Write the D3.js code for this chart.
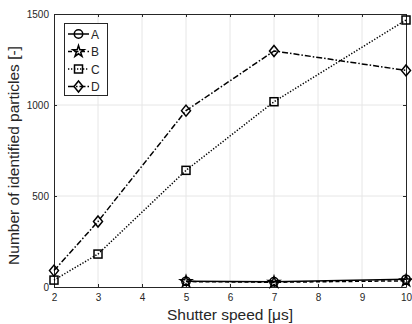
<!DOCTYPE html>
<html lang="en">
<head>
<meta charset="UTF-8">
<title>Identified particles vs shutter speed</title>
<script src="https://d3js.org/d3.v7.min.js"></script>
<style>
  body { margin: 0; background: #fff; }
  svg text { font-family: "Liberation Sans", Arial, sans-serif; fill: #262626; }
</style>
</head>
<body>
<svg id="chart" width="412" height="324"></svg>
<script>
  // data
  const xA = [5, 7, 10];
  const yA = [31, 29, 42];
  const xB = [5, 7, 10];
  const yB = [30, 26, 34];
  const xC = [2, 3, 5, 7, 10];
  const yC = [38, 181, 641, 1018, 1467];
  const xD = [2, 3, 5, 7, 10];
  const yD = [90, 360, 969, 1297, 1190];
  const xTicks = [2, 3, 4, 5, 6, 7, 8, 9, 10];
  const yTicks = [0, 500, 1000, 1500];

  const series = [
    { name: "A", xs: xA, ys: yA, dash: null, marker: "circle" },
    { name: "B", xs: xB, ys: yB, dash: "4,2.5", marker: "star" },
    { name: "C", xs: xC, ys: yC, dash: "1.3,1.7", marker: "square" },
    { name: "D", xs: xD, ys: yD, dash: "6,2,1.5,2", marker: "diamond" }
  ];

  const mLeft = 54, mRight = 406, mTop = 14, mBottom = 287;
  const svg = d3.select("#chart");

  const x = d3.scaleLinear().domain([2, 10]).range([mLeft, mRight]);
  const y = d3.scaleLinear().domain([0, 1500]).range([mBottom, mTop]);

  // grid
  svg.append("g").selectAll("line").data(xTicks.slice(1, -1)).join("line")
    .attr("x1", d => x(d)).attr("x2", d => x(d))
    .attr("y1", mTop).attr("y2", mBottom)
    .attr("stroke", "#e6e6e6").attr("stroke-width", 1);
  svg.append("g").selectAll("line").data(yTicks.slice(1, -1)).join("line")
    .attr("x1", mLeft).attr("x2", mRight)
    .attr("y1", d => y(d)).attr("y2", d => y(d))
    .attr("stroke", "#e6e6e6").attr("stroke-width", 1);

  // axes (ticks inward)
  const axisStyle = g => {
    g.select(".domain").attr("stroke", "#262626");
    g.selectAll(".tick line").attr("stroke", "#262626");
    g.selectAll("text").style("font-size", "10px").attr("fill", "#262626");
  };
  svg.append("g").attr("transform", `translate(0,${mBottom})`)
    .call(d3.axisBottom(x).tickValues(xTicks).tickSize(-3).tickSizeOuter(0).tickPadding(7).tickFormat(d3.format("d")))
    .call(axisStyle);
  svg.append("g").attr("transform", `translate(${mLeft},0)`)
    .call(d3.axisLeft(y).tickValues(yTicks).tickSize(-3).tickSizeOuter(0).tickPadding(5).tickFormat(d3.format("d")))
    .call(axisStyle);
  svg.append("g").attr("transform", `translate(0,${mTop})`)
    .call(d3.axisTop(x).tickValues(xTicks).tickSize(-3).tickSizeOuter(0).tickFormat(""))
    .call(axisStyle);
  svg.append("g").attr("transform", `translate(${mRight},0)`)
    .call(d3.axisRight(y).tickValues(yTicks).tickSize(-3).tickSizeOuter(0).tickFormat(""))
    .call(axisStyle);

  // markers
  function drawMarker(g, type, cx, cy) {
    if (type === "circle") {
      g.append("circle").attr("cx", cx).attr("cy", cy).attr("r", 4.2)
        .attr("fill", "none").attr("stroke", "#000").attr("stroke-width", 1.5);
    } else if (type === "square") {
      g.append("rect").attr("x", cx - 4).attr("y", cy - 4).attr("width", 8).attr("height", 8)
        .attr("fill", "none").attr("stroke", "#000").attr("stroke-width", 1.5);
    } else if (type === "diamond") {
      g.append("path").attr("d", `M${cx},${cy - 5.5}L${cx + 4.5},${cy}L${cx},${cy + 5.5}L${cx - 4.5},${cy}Z`)
        .attr("fill", "none").attr("stroke", "#000").attr("stroke-width", 1.5);
    } else if (type === "star") {
      const sym = d3.symbol().type(d3.symbolStar).size(40);
      g.append("path").attr("d", sym()).attr("transform", `translate(${cx},${cy})`)
        .attr("fill", "none").attr("stroke", "#000").attr("stroke-width", 1.5);
    }
  }

  const line = d3.line().x(d => x(d[0])).y(d => y(d[1]));
  const plot = svg.append("g");
  series.forEach(s => {
    const pts = s.xs.map((v, i) => [v, s.ys[i]]);
    plot.append("path").attr("d", line(pts))
      .attr("fill", "none").attr("stroke", "#000").attr("stroke-width", 1.5)
      .attr("stroke-dasharray", s.dash);
    const mg = plot.append("g");
    pts.forEach(p => drawMarker(mg, s.marker, x(p[0]), y(p[1])));
  });

  // legend
  const lg = svg.append("g");
  lg.append("rect").attr("x", 64.5).attr("y", 23.5).attr("width", 43).attr("height", 72)
    .attr("fill", "#fff").attr("stroke", "#262626").attr("stroke-width", 1);
  series.forEach((s, i) => {
    const ly = 34 + i * 17.5;
    lg.append("line").attr("x1", 68).attr("x2", 89).attr("y1", ly).attr("y2", ly)
      .attr("stroke", "#000").attr("stroke-width", 1.5).attr("stroke-dasharray", s.dash);
    drawMarker(lg, s.marker, 78.5, ly);
    lg.append("text").attr("x", 91).attr("y", ly + 4.5)
      .style("font-size", "12px").text(s.name);
  });

  // axis labels
  svg.append("text").attr("x", (mLeft + mRight) / 2).attr("y", 320)
    .attr("text-anchor", "middle").style("font-size", "15.5px").text("Shutter speed [μs]");
  svg.append("text").attr("transform", `translate(19,${(mTop + mBottom) / 2 + 5}) rotate(-90)`)
    .attr("text-anchor", "middle").style("font-size", "15.5px").text("Number of identified particles [-]");
</script>
</body>
</html>
